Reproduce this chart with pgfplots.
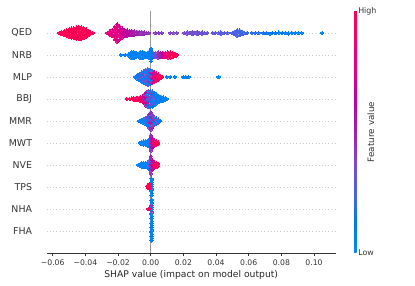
\documentclass[border=0pt]{standalone}
\usepackage{pgfplots}
\pgfplotsset{compat=1.18}
\usepackage{fontspec}
\setmainfont{DejaVu Sans}
\definecolor{axc}{HTML}{333333}
\definecolor{gridc}{HTML}{CCCCCC}
\definecolor{zeroc}{HTML}{999999}
\pgfplotsset{
  colormap={shap}{rgb255=(0,139,251) rgb255=(0,120,243) rgb255=(75,99,227) rgb255=(125,73,203) rgb255=(155,35,173) rgb255=(194,0,156) rgb255=(224,0,134) rgb255=(245,0,108) rgb255=(255,0,82)},
  shapdots/.style={scatter, only marks, mark=*, mark size=1.65bp, point meta=explicit,
    scatter/use mapped color={draw=mapped color, fill=mapped color}, mark options={line width=0pt}},
}
\begin{document}
\begin{tikzpicture}
\useasboundingbox (0,0) rectangle (415bp,286bp);
\begin{axis}[
  at={(46.7bp,33bp)}, anchor=south west,
  scale only axis, width=289bp, height=242bp,
  xmin=-0.0637, xmax=0.1133, ymin=0, ymax=11,
  colormap name=shap, point meta min=0, point meta max=1,
  axis x line*=bottom, axis y line*=left,
  every outer x axis line/.append style={-},
  every outer y axis line/.append style={-},
  x axis line style={draw=axc, line width=0.8bp, -},
  y axis line style={draw=none},
  xtick={-0.06,-0.04,-0.02,0,0.02,0.04,0.06,0.08,0.1},
  xticklabels={−0.06,−0.04,−0.02,0.00,0.02,0.04,0.06,0.08,0.10},
  ytick={1,2,3,4,5,6,7,8,9,10},
  yticklabels={FHA,NHA,TPS,NVE,MWT,MMR,BBJ,MLP,NRB,QED},
  tick align=outside, major tick length=2.5bp,
  xtick style={draw=axc, line width=0.8bp},
  ytick style={draw=none},
  xticklabel style={font=\fontsize{7.7bp}{9bp}\selectfont, text=axc, inner sep=0pt, yshift=-4.5bp},
  yticklabel style={font=\fontsize{9.4bp}{11bp}\selectfont, text=axc, inner sep=0pt, xshift=-12bp},
  xlabel={SHAP value (impact on model output)},
  xlabel style={font=\fontsize{9.2bp}{11bp}\selectfont, text=black!85, inner sep=0pt, yshift=-4.5bp},
  ymajorgrids,
  grid style={draw=gridc, line width=0.5bp, dash pattern=on 0.6bp off 2.6bp},
  colorbar,
  colorbar shift/.style={xshift=18bp},
  colorbar style={
    scale only axis,
    width=2.5bp,
    axis line style={draw=none},
    ytick={0,1}, yticklabels={Low,High},
    ytick style={draw=none},
    yticklabel style={font=\fontsize{7.9bp}{9bp}\selectfont, text=axc, inner sep=1.5bp},
    ylabel={Feature value},
    ylabel style={font=\fontsize{8.8bp}{10bp}\selectfont, text=axc},
    ylabel shift=-14bp,
  },
]
\addplot[zeroc, line width=0.8bp, forget plot] coordinates {(0,0) (0,11)};
% QED
\addplot[shapdots] table[x index=0, y index=1, meta index=2] {
-0.0560 10.00 1
-0.0545 9.95 1
-0.0545 10.05 0.95
-0.0530 9.92 1
-0.0530 10.00 0.97
-0.0530 10.08 1
-0.0515 9.88 1
-0.0515 10.00 1
-0.0515 10.12 0.95
-0.0500 9.84 1
-0.0500 9.94 0.97
-0.0500 10.06 1
-0.0500 10.16 1
-0.0485 9.80 1
-0.0485 9.90 1
-0.0485 10.00 0.95
-0.0485 10.10 1
-0.0485 10.20 0.97
-0.0470 9.78 1
-0.0470 9.89 1
-0.0470 10.00 1
-0.0470 10.11 0.97
-0.0470 10.22 1
-0.0455 9.75 1
-0.0455 9.85 0.97
-0.0455 9.95 1
-0.0455 10.05 1
-0.0455 10.15 1
-0.0455 10.25 0.95
-0.0440 9.72 1
-0.0440 9.83 1
-0.0440 9.94 0.97
-0.0440 10.06 1
-0.0440 10.17 1
-0.0440 10.28 1
-0.0425 9.74 1
-0.0425 9.85 1
-0.0425 9.95 1
-0.0425 10.05 0.95
-0.0425 10.15 1
-0.0425 10.26 1
-0.0410 9.78 0.97
-0.0410 9.89 1
-0.0410 10.00 1
-0.0410 10.11 1
-0.0410 10.22 1
-0.0395 9.84 1
-0.0395 9.94 1
-0.0395 10.06 0.95
-0.0395 10.16 1
-0.0380 9.90 1
-0.0380 10.00 1
-0.0380 10.10 1
-0.0370 9.96 1
-0.0370 10.04 0.97
-0.0355 10.00 0.92
-0.0265 10.00 0.82
-0.0250 9.92 0.78
-0.0250 10.00 0.82
-0.0250 10.08 0.78
-0.0235 9.85 0.8
-0.0235 9.95 0.76
-0.0235 10.05 0.8
-0.0235 10.15 0.74
-0.0220 9.72 0.76
-0.0220 9.83 0.8
-0.0220 9.94 0.74
-0.0220 10.06 0.78
-0.0220 10.17 0.76
-0.0220 10.28 0.8
-0.0205 9.60 0.76
-0.0205 9.72 0.74
-0.0205 9.84 0.8
-0.0205 9.95 0.76
-0.0205 10.05 0.78
-0.0205 10.16 0.74
-0.0205 10.28 0.76
-0.0205 10.40 0.72
-0.0190 9.70 0.74
-0.0190 9.82 0.76
-0.0190 9.94 0.7
-0.0190 10.06 0.76
-0.0190 10.18 0.72
-0.0190 10.30 0.74
-0.0175 9.80 0.68
-0.0175 9.90 0.72
-0.0175 10.00 0.66
-0.0175 10.10 0.7
-0.0175 10.20 0.68
-0.0160 9.85 0.64
-0.0160 9.95 0.66
-0.0160 10.05 0.62
-0.0160 10.15 0.66
-0.0145 9.88 0.6
-0.0145 10.00 0.62
-0.0145 10.12 0.58
-0.0130 9.90 0.58
-0.0130 10.00 0.6
-0.0130 10.10 0.55
-0.0115 9.92 0.55
-0.0115 10.08 0.57
-0.0100 9.92 0.52
-0.0100 10.00 0.55
-0.0100 10.08 0.5
-0.0085 9.94 0.52
-0.0085 10.06 0.5
-0.0070 9.94 0.48
-0.0070 10.06 0.5
-0.0055 9.95 0.48
-0.0055 10.05 0.45
-0.0040 9.96 0.46
-0.0040 10.04 0.48
-0.0025 10.00 0.45
-0.0012 10.00 0.44
0.0030 10.00 0.42
0.0050 10.00 0.42
0.0068 10.00 0.4
0.0120 10.00 0.4
0.0140 10.00 0.38
0.0160 10.00 0.38
0.0205 10.00 0.37
0.0225 9.96 0.36
0.0225 10.04 0.34
0.0240 10.00 0.36
0.0255 9.95 0.34
0.0255 10.05 0.36
0.0270 10.00 0.34
0.0285 9.94 0.36
0.0285 10.06 0.33
0.0300 10.00 0.33
0.0315 9.96 0.34
0.0315 10.04 0.32
0.0330 10.00 0.33
0.0345 10.00 0.32
0.0380 10.00 0.3
0.0395 10.00 0.3
0.0415 10.00 0.29
0.0430 9.96 0.29
0.0430 10.04 0.28
0.0450 10.00 0.28
0.0470 10.00 0.27
0.0500 10.00 0.26
0.0515 9.94 0.26
0.0515 10.06 0.25
0.0530 9.88 0.25
0.0530 10.00 0.26
0.0530 10.12 0.24
0.0545 9.90 0.24
0.0545 10.02 0.25
0.0545 10.12 0.23
0.0560 9.94 0.24
0.0560 10.06 0.23
0.0575 10.00 0.22
0.0590 10.00 0.22
0.0620 10.00 0.2
0.0640 10.00 0.19
0.0660 10.00 0.18
0.0690 10.00 0.16
0.0710 10.00 0.15
0.0730 9.97 0.14
0.0745 10.00 0.13
0.0765 10.00 0.12
0.0785 10.02 0.11
0.0805 10.00 0.1
0.0825 10.00 0.1
0.0845 9.98 0.09
0.0865 10.00 0.08
0.0885 10.00 0.08
0.0905 10.00 0.07
0.0925 10.00 0.06
0.1050 10.00 0.05
};
% NRB
\addplot[shapdots] table[x index=0, y index=1, meta index=2] {
-0.0184 9.00 0.05
-0.0157 9.00 0.06
-0.0135 8.96 0.06
-0.0135 9.04 0.05
-0.0120 8.88 0.06
-0.0120 9.00 0.08
-0.0120 9.12 0.05
-0.0105 8.85 0.06
-0.0105 8.95 0.05
-0.0105 9.05 0.08
-0.0105 9.15 0.06
-0.0090 8.90 0.06
-0.0090 9.00 0.06
-0.0090 9.10 0.08
-0.0078 8.95 0.05
-0.0078 9.05 0.06
-0.0065 8.88 0.06
-0.0065 9.00 0.08
-0.0065 9.12 0.06
-0.0050 8.85 0.08
-0.0050 8.95 0.06
-0.0050 9.05 0.05
-0.0050 9.15 0.06
-0.0035 8.90 0.06
-0.0035 9.00 0.08
-0.0035 9.10 0.06
-0.0022 8.92 0.08
-0.0022 9.08 0.06
-0.0010 8.85 0.06
-0.0010 8.95 0.08
-0.0010 9.05 0.06
-0.0010 9.15 0.08
0.0002 8.72 0.08
0.0002 8.83 0.06
0.0002 8.94 0.1
0.0002 9.06 0.08
0.0002 9.17 0.06
0.0002 9.28 0.08
0.0012 8.88 0.15
0.0012 9.00 0.25
0.0012 9.12 0.12
0.0030 8.90 0.35
0.0030 9.00 0.3
0.0030 9.10 0.38
0.0045 8.88 0.42
0.0045 9.00 0.46
0.0045 9.12 0.42
0.0060 8.90 0.52
0.0060 9.00 0.5
0.0060 9.10 0.55
0.0075 8.90 0.64
0.0075 9.00 0.62
0.0075 9.10 0.66
0.0090 8.90 0.76
0.0090 9.00 0.78
0.0090 9.10 0.74
0.0105 8.88 0.88
0.0105 9.00 0.86
0.0105 9.12 0.9
0.0120 8.88 0.95
0.0120 9.00 1
0.0120 9.12 0.95
0.0135 8.90 1
0.0135 9.00 1
0.0135 9.10 0.97
0.0150 8.94 1
0.0150 9.06 1
0.0162 9.00 1
};
% MLP
\addplot[shapdots] table[x index=0, y index=1, meta index=2] {
-0.0096 8.00 0.08
-0.0082 7.92 0.1
-0.0082 8.00 0.06
-0.0082 8.08 0.15
-0.0068 7.85 0.08
-0.0068 7.95 0.28
-0.0068 8.05 0.06
-0.0068 8.15 0.1
-0.0055 7.80 0.06
-0.0055 7.90 0.1
-0.0055 8.00 0.35
-0.0055 8.10 0.08
-0.0055 8.20 0.25
-0.0042 7.74 0.1
-0.0042 7.85 0.3
-0.0042 7.95 0.06
-0.0042 8.05 0.15
-0.0042 8.15 0.38
-0.0042 8.26 0.08
-0.0030 7.68 0.08
-0.0030 7.81 0.35
-0.0030 7.94 0.1
-0.0030 8.06 0.28
-0.0030 8.19 0.06
-0.0030 8.32 0.32
-0.0018 7.65 0.32
-0.0018 7.77 0.08
-0.0018 7.88 0.4
-0.0018 8.00 0.1
-0.0018 8.12 0.36
-0.0018 8.23 0.06
-0.0018 8.35 0.25
-0.0005 7.67 0.1
-0.0005 7.78 0.45
-0.0005 7.89 0.08
-0.0005 8.00 0.42
-0.0005 8.11 0.15
-0.0005 8.22 0.5
-0.0005 8.33 0.1
0.0008 7.72 0.55
0.0008 7.83 0.15
0.0008 7.94 0.65
0.0008 8.06 0.4
0.0008 8.17 0.6
0.0008 8.28 0.25
0.0021 7.78 0.78
0.0021 7.89 0.68
0.0021 8.00 0.85
0.0021 8.11 0.55
0.0021 8.22 0.8
0.0034 7.84 0.9
0.0034 7.94 0.85
0.0034 8.06 0.95
0.0034 8.16 0.8
0.0047 7.88 0.95
0.0047 8.00 1
0.0047 8.12 0.9
0.0060 7.94 1
0.0060 8.06 0.95
0.0070 8.00 1
0.0098 8.00 0.06
0.0120 8.00 0.06
0.0148 8.00 0.06
0.0200 8.00 0.06
0.0215 8.00 0.08
0.0232 8.00 0.06
0.0416 8.00 0.06
};
% BBJ
\addplot[shapdots] table[x index=0, y index=1, meta index=2] {
-0.0147 7.00 1
-0.0128 7.00 0.95
-0.0115 7.03 1
-0.0103 6.96 0.95
-0.0103 7.04 1
-0.0090 6.95 1
-0.0090 7.05 0.9
-0.0078 6.94 0.95
-0.0078 7.06 1
-0.0065 6.92 0.9
-0.0065 7.00 1
-0.0065 7.08 0.95
-0.0052 6.90 0.82
-0.0052 7.00 0.92
-0.0052 7.10 0.75
-0.0040 6.80 0.62
-0.0040 6.90 0.8
-0.0040 7.00 0.5
-0.0040 7.10 0.72
-0.0040 7.20 0.66
-0.0028 6.70 0.5
-0.0028 6.82 0.7
-0.0028 6.94 0.4
-0.0028 7.06 0.6
-0.0028 7.18 0.32
-0.0028 7.30 0.55
-0.0015 6.64 0.4
-0.0015 6.76 0.12
-0.0015 6.88 0.5
-0.0015 7.00 0.22
-0.0015 7.12 0.42
-0.0015 7.24 0.1
-0.0015 7.36 0.35
-0.0002 6.64 0.12
-0.0002 6.76 0.38
-0.0002 6.88 0.1
-0.0002 7.00 0.35
-0.0002 7.12 0.15
-0.0002 7.24 0.45
-0.0002 7.36 0.1
0.0011 6.66 0.1
0.0011 6.78 0.32
0.0011 6.89 0.08
0.0011 7.00 0.15
0.0011 7.11 0.36
0.0011 7.22 0.1
0.0011 7.34 0.25
0.0024 6.72 0.08
0.0024 6.83 0.25
0.0024 6.94 0.06
0.0024 7.06 0.28
0.0024 7.17 0.08
0.0024 7.28 0.15
0.0037 6.80 0.06
0.0037 6.90 0.1
0.0037 7.00 0.2
0.0037 7.10 0.06
0.0037 7.20 0.08
0.0050 6.86 0.06
0.0050 6.95 0.08
0.0050 7.05 0.06
0.0050 7.14 0.1
0.0063 6.90 0.06
0.0063 7.00 0.08
0.0063 7.10 0.06
0.0076 6.93 0.08
0.0076 7.07 0.06
0.0088 6.96 0.06
0.0088 7.04 0.08
0.0098 7.00 0.06
};
% MMR
\addplot[shapdots] table[x index=0, y index=1, meta index=2] {
-0.0070 6.00 0.06
-0.0058 5.95 0.05
-0.0058 6.05 0.06
-0.0046 5.92 0.06
-0.0046 6.00 0.08
-0.0046 6.08 0.05
-0.0034 5.88 0.08
-0.0034 6.00 0.06
-0.0034 6.12 0.25
-0.0022 5.82 0.1
-0.0022 5.94 0.32
-0.0022 6.06 0.08
-0.0022 6.18 0.4
-0.0010 5.70 0.4
-0.0010 5.82 0.15
-0.0010 5.94 0.48
-0.0010 6.06 0.36
-0.0010 6.18 0.1
-0.0010 6.30 0.45
0.0000 5.60 0.45
0.0000 5.72 0.5
0.0000 5.84 0.36
0.0000 5.95 0.55
0.0000 6.05 0.4
0.0000 6.16 0.5
0.0000 6.28 0.4
0.0000 6.40 0.45
0.0010 5.70 0.5
0.0010 5.82 0.36
0.0010 5.94 0.55
0.0010 6.06 0.15
0.0010 6.18 0.5
0.0010 6.30 0.4
0.0022 5.82 0.4
0.0022 5.94 0.1
0.0022 6.06 0.45
0.0022 6.18 0.32
0.0034 5.88 0.08
0.0034 6.00 0.4
0.0034 6.12 0.1
0.0046 5.92 0.35
0.0046 6.00 0.08
0.0046 6.08 0.3
0.0057 6.00 0.1
};
% MWT
\addplot[shapdots] table[x index=0, y index=1, meta index=2] {
-0.0066 5.00 0.05
-0.0055 4.95 0.06
-0.0055 5.05 0.05
-0.0044 4.93 0.05
-0.0044 5.00 0.06
-0.0044 5.07 0.06
-0.0033 4.93 0.06
-0.0033 5.00 0.05
-0.0033 5.07 0.06
-0.0022 4.92 0.06
-0.0022 5.00 0.08
-0.0022 5.08 0.06
-0.0011 4.85 0.1
-0.0011 4.95 0.06
-0.0011 5.05 0.25
-0.0011 5.15 0.08
0.0000 4.65 0.45
0.0000 4.76 0.4
0.0000 4.88 0.5
0.0000 5.00 0.45
0.0000 5.12 0.4
0.0000 5.24 0.5
0.0000 5.35 0.45
0.0011 4.80 0.62
0.0011 4.90 0.52
0.0011 5.00 0.68
0.0011 5.10 0.58
0.0011 5.20 0.62
0.0022 4.90 0.82
0.0022 5.00 0.76
0.0022 5.10 0.88
0.0034 4.92 0.95
0.0034 5.00 1
0.0034 5.08 0.9
0.0045 4.96 1
0.0045 5.04 0.95
};
% NVE
\addplot[shapdots] table[x index=0, y index=1, meta index=2] {
-0.0076 4.00 0.05
-0.0065 3.96 0.06
-0.0065 4.04 0.05
-0.0054 3.93 0.06
-0.0054 4.00 0.05
-0.0054 4.07 0.06
-0.0043 3.92 0.05
-0.0043 4.00 0.06
-0.0043 4.08 0.06
-0.0032 3.92 0.06
-0.0032 4.00 0.08
-0.0032 4.08 0.06
-0.0021 3.90 0.08
-0.0021 4.00 0.06
-0.0021 4.10 0.1
-0.0010 3.80 0.15
-0.0010 3.90 0.1
-0.0010 4.00 0.32
-0.0010 4.10 0.08
-0.0010 4.20 0.28
0.0000 3.60 0.45
0.0000 3.72 0.4
0.0000 3.84 0.5
0.0000 3.95 0.45
0.0000 4.05 0.55
0.0000 4.16 0.4
0.0000 4.28 0.45
0.0000 4.40 0.5
0.0011 3.78 0.6
0.0011 3.89 0.52
0.0011 4.00 0.65
0.0011 4.11 0.5
0.0011 4.22 0.6
0.0022 3.88 0.78
0.0022 4.00 0.82
0.0022 4.12 0.72
0.0034 3.90 0.9
0.0034 4.00 0.95
0.0034 4.10 0.9
0.0046 3.95 1
0.0046 4.05 0.95
};
% TPS
\addplot[shapdots] table[x index=0, y index=1, meta index=2] {
0.0004 2.62 0.06
0.0007 2.72 0.05
0.0004 2.82 0.06
0.0007 2.92 0.08
0.0004 3.02 0.06
0.0007 3.12 0.05
0.0004 3.22 0.06
0.0007 3.32 0.06
0.0004 3.38 0.08
-0.0022 3.04 1
-0.0014 2.96 1
-0.0014 3.08 0.95
-0.0007 2.94 1
-0.0007 3.04 0.95
-0.0007 3.14 1
};
% NHA
\addplot[shapdots] table[x index=0, y index=1, meta index=2] {
0.0004 1.58 0.06
0.0007 1.68 0.05
0.0004 1.78 0.06
0.0007 1.88 0.35
0.0004 1.98 0.06
0.0007 2.08 0.08
0.0004 2.18 0.42
0.0007 2.28 0.06
0.0004 2.38 0.06
0.0007 2.43 0.05
-0.0015 2.00 1
-0.0008 2.02 0.9
};
% FHA
\addplot[shapdots] table[x index=0, y index=1, meta index=2] {
0.0004 0.56 0.06
0.0007 0.66 0.05
0.0004 0.76 0.06
0.0007 0.86 0.06
0.0004 0.96 0.05
0.0007 1.06 0.06
0.0004 1.16 0.06
0.0007 1.26 0.05
0.0004 1.36 0.06
0.0007 1.44 0.06
};
\end{axis}
\end{tikzpicture}
\end{document}
